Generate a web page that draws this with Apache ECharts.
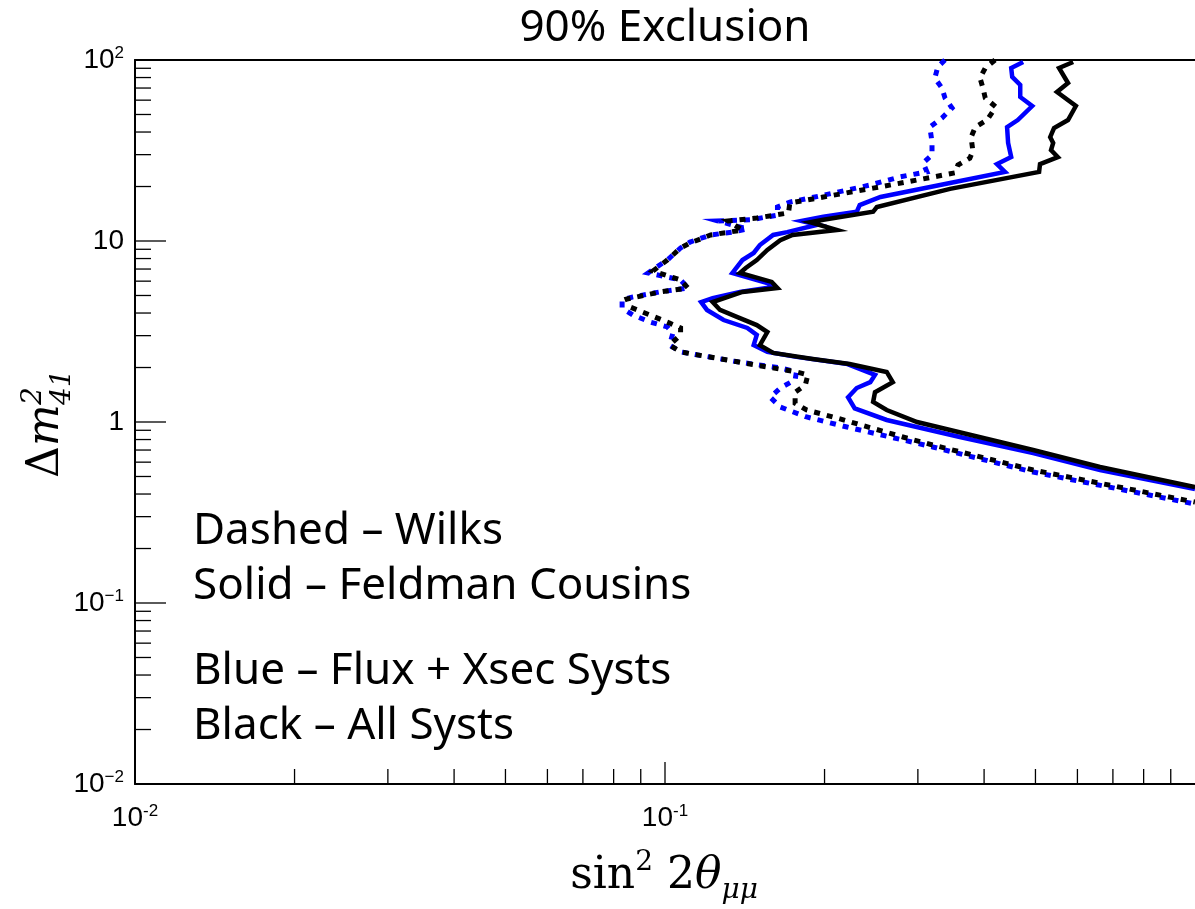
<!DOCTYPE html>
<html>
<head>
<meta charset="utf-8">
<script src="https://cdn.jsdelivr.net/npm/echarts@6/dist/echarts.min.js"></script>
<style>
html,body{margin:0;padding:0;background:#fff;}
#chart{width:1195px;height:909px;}
</style>
</head>
<body>
<div id="chart"></div>
<script>
// ---- data (x = sin^2 2theta_mumu, y = Delta m^2_41) ----
const blackSolid = [
  [0.589,97.5],[0.554,90.3],[0.576,74.6],[0.549,66.6],[0.596,55.7],[0.576,46.6],[0.542,42.1],
  [0.533,37.5],[0.540,34.8],[0.535,31.8],[0.551,29.1],[0.510,26.6],[0.508,24.1],[0.345,19.4],
  [0.251,15.4],[0.247,14.5],[0.199,13.1],[0.188,12.7],[0.211,11.5],[0.174,10.8],[0.165,10.1],
  [0.156,8.92],[0.149,7.85],[0.142,7.09],[0.1385,6.66],[0.159,5.94],[0.163,5.50],[0.140,5.23],
  [0.123,4.60],[0.127,4.16],[0.137,3.80],[0.149,3.43],[0.156,3.14],[0.151,2.66],[0.160,2.41],
  [0.190,2.23],[0.223,2.09],[0.262,1.89],[0.269,1.66],[0.249,1.46],[0.247,1.29],[0.262,1.165],
  [0.299,1.0],[0.371,0.858],[0.495,0.700],[0.662,0.564],[1.0,0.437]
];
const blueSolid = [
  [0.474,97.5],[0.450,90.3],[0.452,80.6],[0.468,72.8],[0.468,62.5],[0.493,55.7],[0.463,46.6],
  [0.442,42.6],[0.444,34.8],[0.450,29.1],[0.423,26.6],[0.438,24.1],[0.345,20.9],[0.255,17.5],
  [0.233,15.8],[0.230,14.5],[0.199,13.6],[0.181,12.9],[0.194,12.3],[0.170,11.2],[0.160,10.8],
  [0.151,9.50],[0.147,8.59],[0.140,7.85],[0.134,6.66],[0.156,5.86],[0.160,5.57],[0.1385,5.23],
  [0.123,4.84],[0.117,4.60],[0.120,4.16],[0.129,3.66],[0.143,3.31],[0.149,3.03],[0.147,2.66],
  [0.156,2.44],[0.177,2.29],[0.221,2.09],[0.249,1.82],[0.244,1.66],[0.230,1.54],[0.2215,1.37],
  [0.228,1.19],[0.262,1.026],[0.360,0.826],[0.495,0.674],[0.662,0.543],[1.0,0.426]
];
const blackDashed = [
  [0.4195,100],[0.402,90.3],[0.393,79.5],[0.398,70.0],[0.402,61.7],[0.421,55.0],[0.405,46.6],
  [0.385,42.6],[0.378,37.5],[0.381,31.4],[0.376,28.7],[0.357,26.3],[0.3525,23.8],[0.286,21.2],
  [0.247,19.6],[0.199,17.5],[0.172,16.2],[0.171,14.3],[0.149,13.4],[0.1315,12.9],[0.140,11.5],
  [0.122,10.8],[0.1115,9.75],[0.107,9.15],[0.101,7.85],[0.0949,6.83],[0.107,6.09],[0.1105,5.50],
  [0.0978,5.23],[0.0848,4.78],[0.0859,4.32],[0.0937,3.90],[0.102,3.52],[0.107,3.31],[0.107,3.03],
  [0.102,2.66],[0.107,2.44],[0.115,2.35],[0.137,2.15],[0.177,1.89],[0.186,1.82],[0.184,1.60],
  [0.176,1.46],[0.176,1.27],[0.185,1.165],[0.211,1.052],[0.281,0.826],[0.320,0.746],[0.495,0.543],
  [1.0,0.361]
];
const blueDashed = [
  [0.3375,100],[0.327,91.5],[0.323,79.5],[0.333,70.0],[0.3375,61.7],[0.348,54.3],[0.333,47.8],
  [0.316,42.6],[0.319,35.2],[0.319,29.9],[0.307,27.0],[0.312,24.1],[0.2775,22.6],[0.244,20.4],
  [0.199,17.9],[0.172,16.4],[0.163,15.4],[0.163,13.9],[0.145,13.1],[0.126,12.9],[0.143,11.65],
  [0.134,11.2],[0.122,10.8],[0.1115,9.87],[0.107,9.15],[0.101,7.85],[0.0958,7.09],[0.0929,6.66],
  [0.107,6.09],[0.1105,5.50],[0.0978,5.23],[0.0870,4.91],[0.0830,4.72],[0.0830,4.26],[0.0870,3.90],
  [0.0937,3.57],[0.101,3.35],[0.1035,3.10],[0.102,2.66],[0.107,2.44],[0.115,2.35],[0.137,2.15],
  [0.165,1.99],[0.177,1.89],[0.176,1.71],[0.165,1.54],[0.158,1.37],[0.165,1.21],[0.185,1.066],
  [0.2205,0.938],[0.281,0.796],[0.320,0.728],[0.495,0.529],[1.0,0.352]
];
const xRange = [0.01, 1];
const yRange = [0.01, 100];
const xTickValues = [0.01, 0.1];
const xTickLabels = ['{b|10}{s|-2}', '{b|10}{s|-1}'];
const yTickValues = [0.01, 0.1, 1, 10, 100];
const yTickLabels = ['{b|10}{s|\u22122}', '{b|10}{s|\u22121}', '{b|1}', '{b|10}', '{b|10}{s|2}'];
const titleText = "90% Exclusion";
const noteLines = ["Dashed \u2013 Wilks", "Solid \u2013 Feldman Cousins", "Blue \u2013 Flux + Xsec Systs", "Black \u2013 All Systs"];

// ---- tick helpers (positions from axis decades) ----
function minorTicks(lo, hi) {
  const out = [];
  for (let e = Math.round(Math.log10(lo)); e < Math.round(Math.log10(hi)); e++) {
    for (let m = 2; m <= 9; m++) out.push(m * Math.pow(10, e));
  }
  return out;
}
function majorTicks(lo, hi) {
  const out = [];
  for (let e = Math.round(Math.log10(lo)); e <= Math.round(Math.log10(hi)); e++) out.push(Math.pow(10, e));
  return out;
}
const yMinor = minorTicks(yRange[0], yRange[1]);
const yMajor = majorTicks(yRange[0], yRange[1]);
const xMinor = minorTicks(xRange[0], xRange[1]);
const xMajor = majorTicks(xRange[0], xRange[1]);

const BLUE = '#0000ff';
const BLACK = '#000000';
const DASH = [6, 7];
const labelFont = 'Liberation Sans';

function tickSeries(values, axis, len) {
  return {
    type: 'custom', silent: true, clip: false, z: 5,
    data: values.map(v => axis === 'y' ? [xRange[0], v] : [v, yRange[0]]),
    renderItem: function (params, api) {
      const p = api.coord([api.value(0), api.value(1)]);
      const shape = axis === 'y'
        ? {x1: p[0], y1: p[1], x2: p[0] + len, y2: p[1]}
        : {x1: p[0], y1: p[1], x2: p[0], y2: p[1] - len};
      return {type: 'line', shape: shape, style: {stroke: '#000', lineWidth: 1.3}};
    }
  };
}

function labelSeries(values, labels, axis) {
  return {
    type: 'custom', silent: true, clip: false, z: 6,
    data: values.map(v => axis === 'y' ? [xRange[0], v] : [v, yRange[0]]),
    renderItem: function (params, api) {
      const p = api.coord([api.value(0), api.value(1)]);
      const txt = labels[params.dataIndex];
      const big = axis === 'y' ? 28 : 28;
      return {
        type: 'text',
        x: axis === 'y' ? p[0] - 11 : p[0],
        y: axis === 'y' ? p[1] : p[1] + 19,
        style: {
          text: txt,
          align: axis === 'y' ? 'right' : 'center',
          verticalAlign: axis === 'y' ? 'middle' : 'top',
          rich: {
            b: {fontSize: big, fontFamily: labelFont, fill: '#000', lineHeight: 30},
            s: {fontSize: 17, fontFamily: labelFont, fill: '#000', verticalAlign: 'top', lineHeight: 18}
          }
        }
      };
    }
  };
}

const chart = echarts.init(document.getElementById('chart'), null, {renderer: 'canvas'});
chart.setOption({
  animation: false,
  backgroundColor: '#fff',
  grid: {left: 135, right: 0, top: 60, bottom: 125, containLabel: false},
  xAxis: [{
    type: 'log', logBase: 10, min: xRange[0], max: xRange[1], splitNumber: 2,
    axisLine: {show: true, onZero: false, lineStyle: {color: '#000', width: 2}},
    axisTick: {show: false}, splitLine: {show: false}, minorTick: {show: false},
    axisLabel: {show: false}
  }, {
    type: 'log', logBase: 10, min: xRange[0], max: xRange[1], position: 'top',
    axisLine: {show: true, onZero: false, lineStyle: {color: '#000', width: 2}},
    axisTick: {show: false}, axisLabel: {show: false}, splitLine: {show: false}
  }],
  yAxis: [{
    type: 'log', logBase: 10, min: yRange[0], max: yRange[1], splitNumber: 4,
    axisLine: {show: true, onZero: false, lineStyle: {color: '#000', width: 2}},
    axisTick: {show: false}, splitLine: {show: false}, minorTick: {show: false},
    axisLabel: {show: false}
  }],
  series: [
    {type: 'line', name: 'Blue dashed', data: blueDashed, showSymbol: false, z: 2,
     lineStyle: {color: BLUE, width: 5, type: DASH, join: 'miter'}},
    {type: 'line', name: 'Black dashed', data: blackDashed, showSymbol: false, z: 3,
     lineStyle: {color: BLACK, width: 5, type: DASH, join: 'miter'}},
    {type: 'line', name: 'Blue solid', data: blueSolid, showSymbol: false, z: 3,
     lineStyle: {color: BLUE, width: 4.5, join: 'miter'}},
    {type: 'line', name: 'Black solid', data: blackSolid, showSymbol: false, z: 4,
     lineStyle: {color: BLACK, width: 4.5, join: 'miter'}},
    tickSeries(yMinor, 'y', 16),
    tickSeries(yMajor.filter(v => v > yRange[0] && v < yRange[1]), 'y', 31),
    tickSeries(xMinor, 'x', 15),
    tickSeries(xMajor.filter(v => v > xRange[0] && v < xRange[1]), 'x', 22),
    labelSeries(yTickValues, yTickLabels, 'y'),
    labelSeries(xTickValues, xTickLabels, 'x')
  ],
  graphic: [
    {type: 'text', x: 665, y: 28, style: {text: titleText, font: '44px "Noto Sans"', fill: '#000', textAlign: 'center', textVerticalAlign: 'middle'}},
    {type: 'text', x: 193, y: 531, style: {text: noteLines[0], font: '44px "Noto Sans"', fill: '#000', textVerticalAlign: 'middle'}},
    {type: 'text', x: 193, y: 586, style: {text: noteLines[1], font: '44px "Noto Sans"', fill: '#000', textVerticalAlign: 'middle'}},
    {type: 'text', x: 193, y: 671, style: {text: noteLines[2], font: '44px "Noto Sans"', fill: '#000', textVerticalAlign: 'middle'}},
    {type: 'text', x: 193, y: 726, style: {text: noteLines[3], font: '44px "Noto Sans"', fill: '#000', textVerticalAlign: 'middle'}},
    // x-axis title: sin^2 2theta_mumu
    {type: 'text', x: 664, y: 877, style: {
      text: '{a|sin}{sup|2}{a| 2}{it|\u03b8}{sub|\u03bc\u03bc}',
      align: 'center', verticalAlign: 'middle',
      rich: {
        a: {fontFamily: 'DejaVu Serif', fontSize: 44, fill: '#000', lineHeight: 56},
        sup: {fontFamily: 'DejaVu Serif', fontSize: 28, fill: '#000', verticalAlign: 'top', lineHeight: 30},
        it: {fontFamily: 'DejaVu Serif', fontStyle: 'italic', fontSize: 44, fill: '#000', lineHeight: 56},
        sub: {fontFamily: 'DejaVu Serif', fontStyle: 'italic', fontSize: 28, fill: '#000', verticalAlign: 'bottom', lineHeight: 30}
      }
    }},
    // y-axis title: Delta m^2_41 (rotated)
    {type: 'group', x: 47, y: 420, rotation: Math.PI / 2, children: [
      {type: 'text', x: -58, y: 0, style: {text: '\u0394', font: '44px "DejaVu Serif"', fill: '#000', textVerticalAlign: 'middle'}},
      {type: 'text', x: -26, y: 0, style: {text: 'm', font: 'italic 44px "DejaVu Serif"', fill: '#000', textVerticalAlign: 'middle'}},
      {type: 'text', x: 15, y: -13, style: {text: '2', font: 'italic 28px "DejaVu Serif"', fill: '#000', textVerticalAlign: 'middle'}},
      {type: 'text', x: 15, y: 16, style: {text: '41', font: 'italic 28px "DejaVu Serif"', fill: '#000', textVerticalAlign: 'middle'}}
    ]}
  ]
});
</script>
</body>
</html>
